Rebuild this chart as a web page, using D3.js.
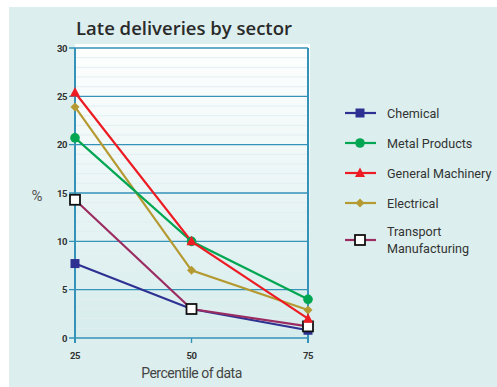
<!DOCTYPE html>
<html>
<head>
<meta charset="utf-8">
<script src="https://cdn.jsdelivr.net/npm/d3@7"></script>
<style>
  body { margin: 0; background: #fff; }
  svg { display: block; }
</style>
</head>
<body>
<svg id="chart" width="497" height="387"></svg>
<script>
const percentiles = [25, 50, 75];
const yTicks = [0, 5, 10, 15, 20, 25, 30];

const chemical = [7.7, 3.0, 0.8];
const metalProducts = [20.7, 10.0, 4.0];
const generalMachinery = [25.4, 10.0, 2.0];
const electrical = [23.9, 7.0, 2.9];
const transportManufacturing = [14.3, 3.0, 1.2];

const series = [
  { name: ['Chemical'], values: chemical, color: '#2e3192', shape: 'square' },
  { name: ['Metal Products'], values: metalProducts, color: '#00a651', shape: 'circle' },
  { name: ['General Machinery'], values: generalMachinery, color: '#ed1c24', shape: 'triangle' },
  { name: ['Electrical'], values: electrical, color: '#b59a32', shape: 'diamond' },
  { name: ['Transport', 'Manufacturing'], values: transportManufacturing, color: '#9b2c62', shape: 'open' }
];

const svg = d3.select('#chart');
const plotLeft = 75, plotRight = 308, plotTop = 48, plotBottom = 338;

// panel background
svg.append('rect')
  .attr('x', 9).attr('y', 7)
  .attr('width', 497 - 9).attr('height', 387 - 7)
  .attr('fill', '#dcefee');

const defs = svg.append('defs');
const grad = defs.append('linearGradient')
  .attr('id', 'plotbg').attr('x1', 0).attr('y1', 0).attr('x2', 0).attr('y2', 1);
grad.append('stop').attr('offset', '0%').attr('stop-color', '#ffffff');
grad.append('stop').attr('offset', '100%').attr('stop-color', '#d6ecec');

svg.append('rect')
  .attr('x', plotLeft).attr('y', plotTop - 4)
  .attr('width', plotRight - plotLeft + 2).attr('height', plotBottom - plotTop + 4)
  .attr('fill', 'url(#plotbg)');

const x = d3.scalePoint()
  .domain(percentiles)
  .range([plotLeft, plotRight]);

const y = d3.scaleLinear()
  .domain([0, 30])
  .range([plotBottom, plotTop]);

// faint minor grid
svg.append('g')
  .selectAll('line')
  .data(d3.range(1, 30).filter((v) => v % 5 !== 0))
  .enter()
  .append('line')
  .attr('x1', plotLeft).attr('x2', plotRight)
  .attr('y1', (d) => y(d)).attr('y2', (d) => y(d))
  .attr('stroke', '#e2eff2')
  .attr('stroke-width', 1);

// major grid
svg.append('g')
  .selectAll('line')
  .data(yTicks)
  .enter()
  .append('line')
  .attr('x1', plotLeft - 6).attr('x2', plotRight)
  .attr('y1', (d) => y(d)).attr('y2', (d) => y(d))
  .attr('stroke', '#3592b8')
  .attr('stroke-width', 1.4);

// vertical frame lines
svg.append('g')
  .selectAll('line')
  .data([25, 75])
  .enter()
  .append('line')
  .attr('x1', (d) => x(d)).attr('x2', (d) => x(d))
  .attr('y1', plotTop).attr('y2', plotBottom + 5)
  .attr('stroke', '#3592b8')
  .attr('stroke-width', 2);

svg.append('line')
  .attr('x1', x(50)).attr('x2', x(50))
  .attr('y1', plotBottom).attr('y2', plotBottom + 5)
  .attr('stroke', '#3592b8')
  .attr('stroke-width', 1.4);

// y tick labels
svg.append('g')
  .selectAll('text')
  .data(yTicks)
  .enter()
  .append('text')
  .attr('x', plotLeft - 8)
  .attr('y', (d) => y(d) + 3.5)
  .attr('text-anchor', 'end')
  .attr('font-family', 'Roboto, sans-serif')
  .attr('font-weight', 'bold')
  .attr('font-size', 9.5)
  .attr('letter-spacing', -0.5)
  .attr('fill', '#333')
  .text((d) => d);

// x tick labels
svg.append('g')
  .selectAll('text')
  .data(percentiles)
  .enter()
  .append('text')
  .attr('x', (d) => x(d))
  .attr('y', plotBottom + 21)
  .attr('text-anchor', 'middle')
  .attr('font-family', 'Roboto, sans-serif')
  .attr('font-weight', 'bold')
  .attr('font-size', 9.5)
  .attr('letter-spacing', -0.5)
  .attr('fill', '#333')
  .text((d) => d);

svg.append('text')
  .text('Late deliveries by sector')
  .attr('x', 184).attr('y', 35)
  .attr('text-anchor', 'middle')
  .attr('font-family', 'Open Sans, sans-serif')
  .attr('font-weight', 600)
  .attr('font-size', 18.5)
  .attr('fill', '#2a2a2a');

svg.append('text')
  .text('%')
  .attr('x', 37).attr('y', 201)
  .attr('text-anchor', 'middle')
  .attr('font-family', 'Roboto, sans-serif')
  .attr('font-size', 15)
  .attr('fill', '#555');

svg.append('text')
  .text('Percentile of data')
  .attr('x', x(50)).attr('y', 378)
  .attr('text-anchor', 'middle')
  .attr('font-family', 'Roboto, sans-serif')
  .attr('font-size', 14)
  .attr('letter-spacing', -0.5)
  .attr('fill', '#444');

function drawMarker(g, shape, color, cx, cy) {
  if (shape === 'square') {
    g.append('rect').attr('x', cx - 4.5).attr('y', cy - 4.5)
      .attr('width', 9).attr('height', 9).attr('fill', color);
  } else if (shape === 'circle') {
    g.append('circle').attr('cx', cx).attr('cy', cy).attr('r', 4.8).attr('fill', color);
  } else if (shape === 'triangle') {
    g.append('path')
      .attr('d', `M${cx},${cy - 5.5}L${cx + 5},${cy + 4}L${cx - 5},${cy + 4}Z`)
      .attr('fill', color);
  } else if (shape === 'diamond') {
    g.append('path')
      .attr('d', `M${cx},${cy - 4.5}L${cx + 4.5},${cy}L${cx},${cy + 4.5}L${cx - 4.5},${cy}Z`)
      .attr('fill', color);
  } else {
    g.append('rect').attr('x', cx - 5).attr('y', cy - 5)
      .attr('width', 10).attr('height', 10)
      .attr('fill', '#fff').attr('stroke', '#111').attr('stroke-width', 1.8);
  }
}

const line = d3.line()
  .x((d, i) => x(percentiles[i]))
  .y((d) => y(d));

const drawOrder = [0, 4, 3, 1, 2];
drawOrder.forEach((k) => {
  const s = series[k];
  svg.append('path')
    .datum(s.values)
    .attr('d', line)
    .attr('fill', 'none')
    .attr('stroke', s.color)
    .attr('stroke-width', 2.2);
});
drawOrder.forEach((k) => {
  const s = series[k];
  const g = svg.append('g');
  s.values.forEach((v, i) => drawMarker(g, s.shape, s.color, x(percentiles[i]), y(v)));
});

// legend
const legendY = [113, 143, 173, 203, 240];
series.forEach((s, i) => {
  const g = svg.append('g').attr('transform', `translate(0, ${legendY[i]})`);
  g.append('line')
    .attr('x1', 345).attr('x2', 376)
    .attr('stroke', s.color).attr('stroke-width', 2.2);
  drawMarker(g, s.shape, s.color, 360, 0);
  const t = g.append('text')
    .attr('font-family', 'Roboto, sans-serif')
    .attr('font-size', 12.6)
    .attr('fill', '#333');
  s.name.forEach((part, j) => {
    t.append('tspan')
      .attr('x', 387)
      .attr('y', s.name.length > 1 ? -4 + j * 17 : 4.5)
      .text(part);
  });
});
</script>
</body>
</html>
